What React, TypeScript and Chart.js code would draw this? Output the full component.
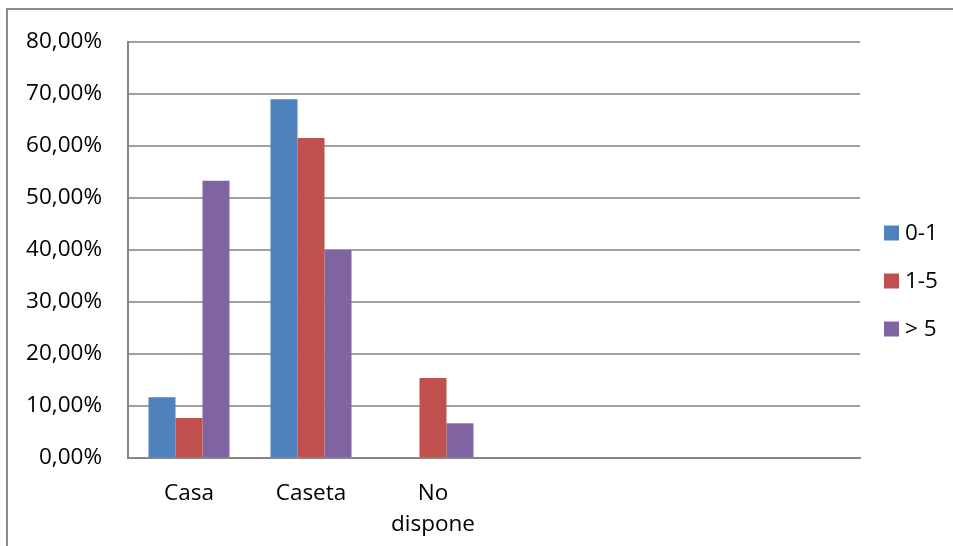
import React, { useEffect, useRef } from "react";
import { Chart, registerables } from "chart.js";

Chart.register(...registerables);

// Categories (the last three slots are empty, as in the source sheet)
const categories: (string | string[])[] = ["Casa", "Caseta", ["No", "dispone"], "", "", ""];
const seriesNames = ["0-1", "1-5", "> 5"];
const values01 = [11.7, 69.0, 0, null, null, null];
const values15 = [7.69, 61.54, 15.38, null, null, null];
const valuesOver5 = [53.33, 40.0, 6.67, null, null, null];
const seriesColors = ["#4F81BD", "#C0504D", "#8064A2"];
const yTicks = [0, 10, 20, 30, 40, 50, 60, 70, 80];

const FONT = "'Open Sans', 'Liberation Sans', sans-serif";
const FONT_SIZE = 22.5;

const fmtPct = (v: number) => v.toFixed(2).replace(".", ",") + "%";

// Legend drawn on the canvas to the right of the plot
const sideLegend = {
  id: "sideLegend",
  afterDraw(chart: any) {
    const { ctx } = chart;
    ctx.save();
    ctx.font = `${FONT_SIZE}px ${FONT}`;
    ctx.textBaseline = "middle";
    ctx.textAlign = "left";
    chart.data.datasets.forEach((ds: any, i: number) => {
      const cy = 233 + i * 48;
      ctx.fillStyle = ds.backgroundColor;
      ctx.fillRect(884, cy - 7.5, 15, 15);
      ctx.fillStyle = "#000";
      ctx.fillText(ds.label, 905, cy + 1);
    });
    ctx.restore();
  },
};

export default function App() {
  const ref = useRef<HTMLCanvasElement>(null);

  useEffect(() => {
    if (!ref.current) return;
    const series = [values01, values15, valuesOver5];
    const chart = new Chart(ref.current, {
      type: "bar",
      data: {
        labels: categories,
        datasets: series.map((d, i) => ({
          label: seriesNames[i],
          data: d,
          backgroundColor: seriesColors[i],
          borderWidth: 0,
          categoryPercentage: 0.664,
          barPercentage: 1,
        })),
      },
      options: {
        animation: false,
        responsive: false,
        layout: { padding: { left: 0, right: 93, top: 42, bottom: 0 } },
        plugins: {
          legend: { display: false },
          tooltip: { enabled: false },
        },
        scales: {
          x: {
            grid: { display: false, drawTicks: false },
            border: { display: true, color: "#868686", width: 2 },
            ticks: {
              color: "#000",
              font: { family: FONT, size: FONT_SIZE, lineHeight: 1.34 },
              padding: 21,
              maxRotation: 0,
              autoSkip: false,
            },
            afterFit(scale: any) {
              scale.height = 88;
            },
          },
          y: {
            min: 0,
            max: 80,
            afterBuildTicks(scale: any) {
              scale.ticks = yTicks.map((v) => ({ value: v }));
            },
            grid: { color: "#a0a0a0", lineWidth: 2, drawTicks: false },
            border: { display: true, color: "#868686", width: 2 },
            ticks: {
              color: "#000",
              font: { family: FONT, size: FONT_SIZE },
              padding: 26,
              callback: (v: any) => fmtPct(Number(v)),
            },
            afterFit(scale: any) {
              scale.width = 128;
            },
          },
        },
      },
      plugins: [sideLegend],
    });
    return () => chart.destroy();
  }, []);

  return (
    <div
      style={{
        position: "fixed",
        left: 0,
        top: 0,
        width: 953,
        height: 546,
        overflow: "hidden",
        background: "#fff",
      }}
    >
      <div
        style={{
          position: "absolute",
          left: 6,
          top: 8,
          width: 1000,
          height: 600,
          borderLeft: "2px solid #8c8c8c",
          borderTop: "2px solid #8c8c8c",
        }}
      />
      <canvas
        ref={ref}
        width={953}
        height={546}
        style={{ position: "absolute", left: 0, top: 0, width: 953, height: 546 }}
      />
    </div>
  );
}
